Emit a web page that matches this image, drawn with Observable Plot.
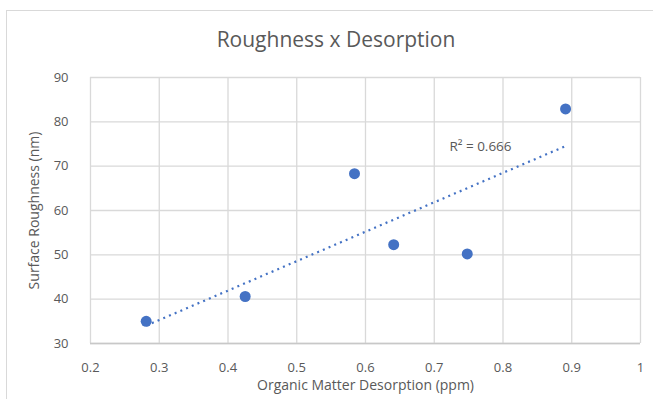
<!DOCTYPE html>
<html><head><meta charset="utf-8">
<script src="https://cdn.jsdelivr.net/npm/d3@7"></script>
<script src="https://cdn.jsdelivr.net/npm/@observablehq/plot@0.6"></script>
<style>
body{margin:0;background:#fff;}
#wrap{position:relative;width:653px;height:399px;overflow:hidden;font-family:"Open Sans",sans-serif;}
#frame{position:absolute;left:6px;top:10px;width:660px;height:400px;border:1px solid #d9d9d9;box-sizing:border-box;}
#title{position:absolute;top:25px;left:6px;width:660px;text-align:center;font-size:21px;color:#595959;white-space:nowrap;}
#chart{position:absolute;left:0;top:0;}
</style></head><body>
<div id="wrap"><div id="frame"></div><div id="title"></div><div id="chart"></div></div>
<script>
const titleText = "Roughness x Desorption";
const xLabel = "Organic Matter Desorption (ppm)";
const yLabel = "Surface Roughness (nm)";
const desorption = [0.281, 0.425, 0.584, 0.641, 0.748, 0.891];
const roughness = [35.0, 40.6, 68.3, 52.3, 50.2, 82.9];
const xTicks = [0.2, 0.3, 0.4, 0.5, 0.6, 0.7, 0.8, 0.9, 1];
const yTicks = [30, 40, 50, 60, 70, 80, 90];
const annotX = [0.722];
const annotY = [74.4];

const data = desorption.map((x, i) => ({x, y: roughness[i]}));

// R² of linear fit
const mx = d3.mean(desorption), my = d3.mean(roughness);
let sxy = 0, sxx = 0, syy = 0;
data.forEach(d => { sxy += (d.x - mx) * (d.y - my); sxx += (d.x - mx) ** 2; syy += (d.y - my) ** 2; });
const r2 = (sxy * sxy) / (sxx * syy);
const annot = [{x: annotX[0], y: annotY[0], t: "R² = " + r2.toFixed(3)}];

const blue = "#4472C4";
const grid = "#d9d9d9";
const txt = "#595959";

const chart = Plot.plot({
  width: 653,
  height: 399,
  marginLeft: 90,
  marginRight: 13,
  marginTop: 77,
  marginBottom: 56,
  style: {background: "transparent", fontFamily: "Open Sans, sans-serif", fontSize: "13px", color: txt, overflow: "visible"},
  x: {domain: [0.2, 1], ticks: xTicks},
  y: {domain: [30, 90], ticks: yTicks},
  marks: [
    Plot.gridX(xTicks, {stroke: grid, strokeOpacity: 1, strokeWidth: 1.3}),
    Plot.gridY(yTicks, {stroke: grid, strokeOpacity: 1, strokeWidth: 1.3}),
    Plot.ruleY([30], {stroke: "#c8c8c8", strokeWidth: 1.3}),
    Plot.axisX(xTicks, {tickSize: 0, tickPadding: 19, tickFormat: d => String(d), label: null, fontSize: 13, fill: txt}),
    Plot.axisY(yTicks, {tickSize: 0, tickPadding: 22, label: null, fontSize: 13, fill: txt}),
    Plot.linearRegressionY(data, {x: "x", y: "y", ci: 0, stroke: blue, strokeWidth: 2.2, strokeDasharray: "2,4.2", strokeLinecap: "butt"}),
    Plot.dot(data, {x: "x", y: "y", r: 5.5, fill: blue, stroke: null}),
    Plot.text(annot, {x: "x", y: "y", text: "t", textAnchor: "start", fontSize: 13.5, fill: txt}),
    Plot.text([xLabel], {frameAnchor: "bottom", dy: 46, text: d => d, fontSize: 14, fill: txt}),
    Plot.text([yLabel], {frameAnchor: "left", dx: -56, rotate: -90, textAnchor: "middle", text: d => d, fontSize: 14, fill: txt})
  ]
});
document.getElementById("chart").appendChild(chart);
document.getElementById("title").textContent = titleText;
</script>
</body></html>
